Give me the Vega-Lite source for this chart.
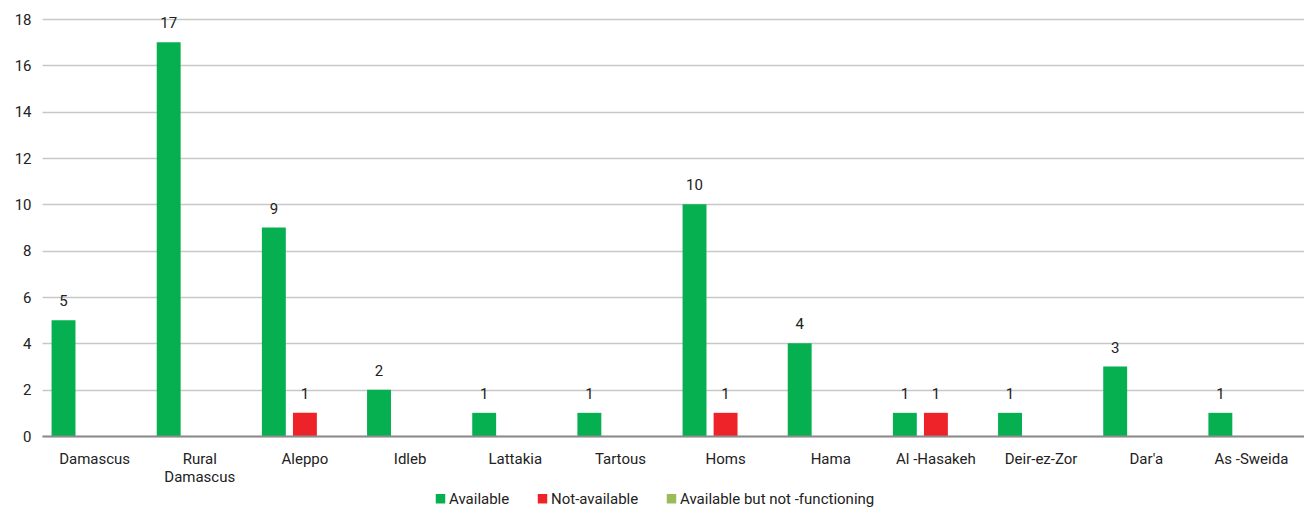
{
  "$schema": "https://vega.github.io/schema/vega-lite/v6.json",
  "autosize": {"type": "none"},
  "padding": {"left": 42, "top": 19, "right": 0, "bottom": 75},
  "width": 1262,
  "height": 417,
  "config": {
    "font": "Roboto",
    "view": {"stroke": null},
    "axis": {"labelFont": "Roboto", "labelFontSize": 15, "labelColor": "#222"},
    "legend": {"labelFont": "Roboto", "labelFontSize": 15, "labelColor": "#222"}
  },
  "data": {
    "values": [
      {"region": "Damascus", "status": "Available", "value": 5},
      {"region": "Damascus", "status": "Not-available", "value": 0},
      {"region": "Damascus", "status": "Available but not -functioning", "value": 0},
      {"region": "Rural Damascus", "status": "Available", "value": 17},
      {"region": "Rural Damascus", "status": "Not-available", "value": 0},
      {"region": "Rural Damascus", "status": "Available but not -functioning", "value": 0},
      {"region": "Aleppo", "status": "Available", "value": 9},
      {"region": "Aleppo", "status": "Not-available", "value": 1},
      {"region": "Aleppo", "status": "Available but not -functioning", "value": 0},
      {"region": "Idleb", "status": "Available", "value": 2},
      {"region": "Idleb", "status": "Not-available", "value": 0},
      {"region": "Idleb", "status": "Available but not -functioning", "value": 0},
      {"region": "Lattakia", "status": "Available", "value": 1},
      {"region": "Lattakia", "status": "Not-available", "value": 0},
      {"region": "Lattakia", "status": "Available but not -functioning", "value": 0},
      {"region": "Tartous", "status": "Available", "value": 1},
      {"region": "Tartous", "status": "Not-available", "value": 0},
      {"region": "Tartous", "status": "Available but not -functioning", "value": 0},
      {"region": "Homs", "status": "Available", "value": 10},
      {"region": "Homs", "status": "Not-available", "value": 1},
      {"region": "Homs", "status": "Available but not -functioning", "value": 0},
      {"region": "Hama", "status": "Available", "value": 4},
      {"region": "Hama", "status": "Not-available", "value": 0},
      {"region": "Hama", "status": "Available but not -functioning", "value": 0},
      {"region": "Al -Hasakeh", "status": "Available", "value": 1},
      {"region": "Al -Hasakeh", "status": "Not-available", "value": 1},
      {"region": "Al -Hasakeh", "status": "Available but not -functioning", "value": 0},
      {"region": "Deir-ez-Zor", "status": "Available", "value": 1},
      {"region": "Deir-ez-Zor", "status": "Not-available", "value": 0},
      {"region": "Deir-ez-Zor", "status": "Available but not -functioning", "value": 0},
      {"region": "Dar'a", "status": "Available", "value": 3},
      {"region": "Dar'a", "status": "Not-available", "value": 0},
      {"region": "Dar'a", "status": "Available but not -functioning", "value": 0},
      {"region": "As -Sweida", "status": "Available", "value": 1},
      {"region": "As -Sweida", "status": "Not-available", "value": 0},
      {"region": "As -Sweida", "status": "Available but not -functioning", "value": 0}
    ]
  },
  "encoding": {
    "x": {
      "field": "region",
      "type": "nominal",
      "sort": null,
      "title": null,
      "scale": {"paddingInner": 0.114, "paddingOuter": 0.057},
      "axis": {
        "labelAngle": 0,
        "labelPadding": 15,
        "labelFontSize": 15,
        "labelLineHeight": 18,
        "ticks": false,
        "domainColor": "#8c8c8c",
        "domainWidth": 2,
        "zindex": 1,
        "labelExpr": "datum.label == 'Rural Damascus' ? ['Rural', 'Damascus'] : datum.label"
      }
    },
    "xOffset": {
      "field": "status",
      "type": "nominal",
      "sort": ["Available", "Not-available", "Available but not -functioning"],
      "scale": {"paddingInner": 0.23, "paddingOuter": 0.115}
    },
    "y": {
      "field": "value",
      "type": "quantitative",
      "title": null,
      "scale": {"domain": [0, 18]},
      "axis": {
        "values": [0, 2, 4, 6, 8, 10, 12, 14, 16, 18],
        "domain": false,
        "ticks": false,
        "labelPadding": 11,
        "labelFontSize": 15,
        "gridColor": "#c8c8c8",
        "gridWidth": 1.5
      }
    }
  },
  "layer": [
    {
      "mark": {"type": "bar"},
      "encoding": {
        "color": {
          "field": "status",
          "type": "nominal",
          "sort": ["Available", "Not-available", "Available but not -functioning"],
          "scale": {
            "domain": ["Available", "Not-available", "Available but not -functioning"],
            "range": ["#06B050", "#EE2229", "#9BBB59"]
          },
          "legend": {
            "title": null,
            "orient": "none",
            "legendX": 391,
            "legendY": 472,
            "direction": "horizontal",
            "symbolType": "square",
            "symbolSize": 90,
            "symbolStrokeWidth": 0,
            "labelOffset": 1,
            "labelLimit": 300,
            "columnPadding": 25
          }
        }
      }
    },
    {
      "transform": [{"filter": "datum.value > 0"}],
      "mark": {"type": "text", "baseline": "alphabetic", "dy": -14, "fontSize": 15, "color": "#222"},
      "encoding": {
        "text": {"field": "value", "type": "quantitative"}
      }
    }
  ]
}
